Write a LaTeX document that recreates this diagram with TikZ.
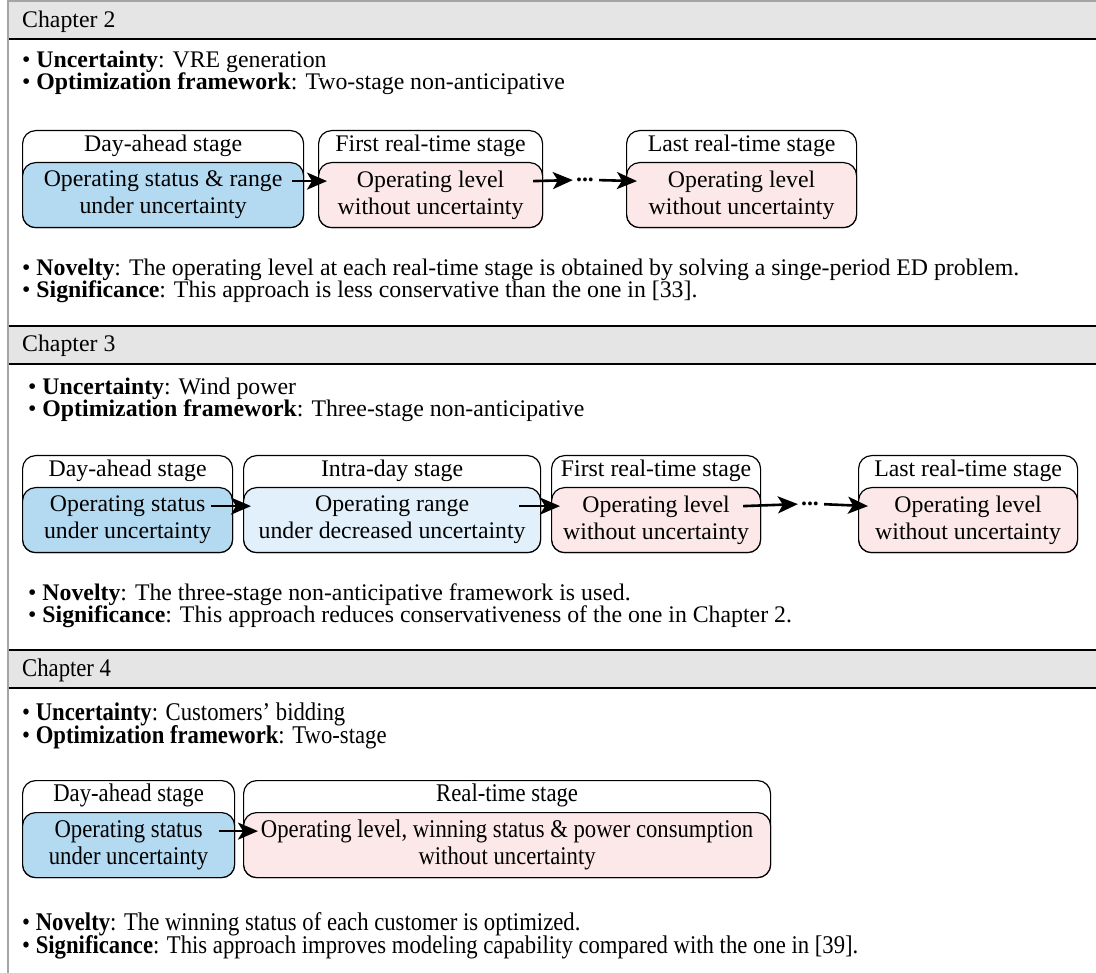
\documentclass[tikz,border=0pt]{standalone}
\usepackage{fontspec}
\setmainfont{Liberation Serif}
\newfontfamily\narrowserif[FakeStretch=0.89]{Liberation Serif}
\usetikzlibrary{arrows.meta, positioning}

\definecolor{bargray}{RGB}{229,229,229}
\definecolor{framegray}{RGB}{165,165,165}
\definecolor{dablue}{RGB}{180,218,242}
\definecolor{idblue}{RGB}{225,240,250}
\definecolor{rtpink}{RGB}{252,232,232}

\tikzset{
    outerbox/.style={draw, line width=1.2pt, rounded corners=13pt, fill=white, minimum height=97pt, inner sep=0pt},
    innerbox/.style={draw, line width=1.2pt, rounded corners=13pt, minimum height=65pt, inner sep=0pt, align=center},
    headbox/.style={minimum height=32pt, inner sep=0pt},
    bul/.style={anchor=base west, inner sep=0pt},
    flow/.style={-{Stealth[length=20pt, width=17pt, inset=5pt]}, line width=2.6pt},
    dots/.style={inner sep=0pt}
}

% one stage: name, top-left corner, width, fill, title, body
\newcommand{\stg}[6]{%
    \node[outerbox, minimum width=#3, anchor=north west] (#1) at (#2) {};
    \node[innerbox, minimum width=#3, fill=#4, anchor=south] (#1in) at (#1.south) {#6};
    \node[headbox, above=0pt of #1in] (#1hd) {#5};
}

\begin{document}
\begin{tikzpicture}[x=1pt, y=-1pt, font=\fontsize{23.8}{27}\selectfont]
    \useasboundingbox (0,0) rectangle (1096,973);

    % chapter bars
    \fill[bargray] (8,1) rectangle (1096,39);
    \fill[bargray] (8,326) rectangle (1096,364);
    \fill[bargray] (8,650) rectangle (1096,688);
    \draw[framegray, line width=1.5pt] (8,1) -- (1096,1);
    \draw[line width=1.4pt] (8,39) -- (1096,39) (8,326) -- (1096,326) (8,364) -- (1096,364)
        (8,650) -- (1096,650) (8,688) -- (1096,688);
    \draw[framegray, line width=2pt] (8,0) -- (8,973);

    % Chapter 2
    \node[bul] (h2) at (22,28) {Chapter 2};
    \node[bul] (u2) at (22,68) {• \textbf{Uncertainty}: VRE generation};
    \node[bul] (o2) at (22,90) {• \textbf{Optimization framework}: Two-stage non-anticipative};

    \stg{d2}{22,130}{281pt}{dablue}{Day-ahead stage}{Operating status \& range\\under uncertainty}
    \stg{r2a}{318,130}{224pt}{rtpink}{First real-time stage}{Operating level\\without uncertainty}
    \stg{r2b}{626,130}{230pt}{rtpink}{Last real-time stage}{Operating level\\without uncertainty}
    \node[dots] (m2) at (585,180) {\textbf{...}};

    \draw[flow] ([xshift=-12pt, yshift=14pt]d2in.east) -- ([xshift=9pt, yshift=14pt]r2ain.west);
    \draw[flow, shorten >=3pt] ([xshift=-10pt, yshift=14pt]r2ain.east) -- (m2.west);
    \draw[flow, shorten <=5pt] (m2.east) -- ([xshift=11pt, yshift=14pt]r2bin.west);

    \node[bul] (n2) at (22,276) {• \textbf{Novelty}: The operating level at each real-time stage is obtained by solving a singe-period ED problem.};
    \node[bul] (s2) at (22,298) {• \textbf{Significance}: This approach is less conservative than the one in [33].};

    % Chapter 3
    \node[bul] (h3) at (22,352) {Chapter 3};
    \node[bul] (u3) at (28,395) {• \textbf{Uncertainty}: Wind power};
    \node[bul] (o3) at (28,417) {• \textbf{Optimization framework}: Three-stage non-anticipative};

    \stg{d3}{22,455}{210pt}{dablue}{Day-ahead stage}{Operating status\\under uncertainty}
    \stg{i3}{243,455}{297pt}{idblue}{Intra-day stage}{Operating range\\under decreased uncertainty}
    \stg{r3a}{551,455}{209pt}{rtpink}{First real-time stage}{Operating level\\without uncertainty}
    \stg{r3b}{858,455}{219pt}{rtpink}{Last real-time stage}{Operating level\\without uncertainty}
    \node[dots] (m3) at (810,504) {\textbf{...}};

    \draw[flow] ([xshift=-22pt, yshift=14pt]d3in.east) -- ([xshift=8pt, yshift=14pt]i3in.west);
    \draw[flow] ([xshift=-22pt, yshift=14pt]i3in.east) -- ([xshift=9pt, yshift=14pt]r3ain.west);
    \draw[flow, shorten >=3pt] ([xshift=-18pt, yshift=14pt]r3ain.east) -- (m3.west);
    \draw[flow, shorten <=5pt] (m3.east) -- ([xshift=10pt, yshift=14pt]r3bin.west);

    \node[bul] (n3) at (28,600) {• \textbf{Novelty}: The three-stage non-anticipative framework is used.};
    \node[bul] (s3) at (28,623) {• \textbf{Significance}: This approach reduces conservativeness of the one in Chapter 2.};

    % Chapter 4
    \begin{scope}[font=\narrowserif\fontsize{25.5}{27}\selectfont]
    \node[bul] (h4) at (22,676) {Chapter 4};
    \node[bul] (u4) at (22,720) {• \textbf{Uncertainty}: Customers’ bidding};
    \node[bul] (o4) at (22,743) {• \textbf{Optimization framework}: Two-stage};

    \stg{d4}{22,780}{212pt}{dablue}{Day-ahead stage}{Operating status\\under uncertainty}
    \stg{r4}{243,780}{527pt}{rtpink}{Real-time stage}{Operating level, winning status \& power consumption\\without uncertainty}

    \draw[flow] ([xshift=-16pt, yshift=14pt]d4in.east) -- ([xshift=15pt, yshift=14pt]r4in.west);

    \node[bul] (n4) at (22,930) {• \textbf{Novelty}: The winning status of each customer is optimized.};
    \node[bul] (s4) at (22,953) {• \textbf{Significance}: This approach improves modeling capability compared with the one in [39].};
    \end{scope}
\end{tikzpicture}
\end{document}
